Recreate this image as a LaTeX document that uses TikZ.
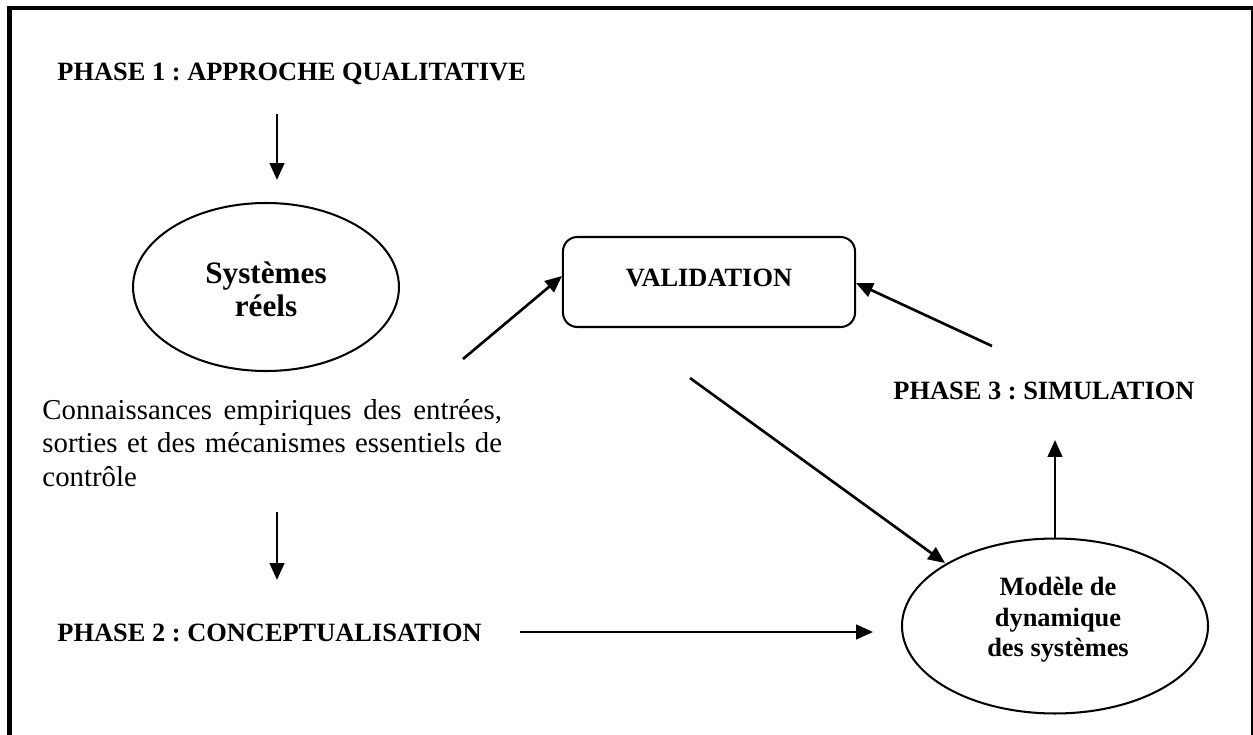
\documentclass[tikz,border=0pt]{standalone}
\usepackage{fontspec}
\setmainfont{Liberation Serif}
\usetikzlibrary{arrows.meta,shapes.geometric}
\frenchspacing
\begin{document}
\begin{tikzpicture}[x=0.41667pt,y=-0.41667pt,
  phase/.style={font=\bfseries\fontsize{11pt}{12.7pt}\selectfont,inner sep=0pt},
  blob/.style={ellipse,draw,line width=0.85pt,inner sep=0pt},
  flow/.style={line width=1.1pt,-{Triangle[length=7pt,width=6pt]}}]
\useasboundingbox (0,0) rectangle (1253,735);
% outer frame
\draw[line width=1.7pt] (9.5,8) rectangle (1253,745);

% phase headings
\node[phase,anchor=base west] (p1) at (57,80) {PHASE 1 : APPROCHE QUALITATIVE};
\node[phase,anchor=base west] (p2) at (57,641) {PHASE 2 : CONCEPTUALISATION};
\node[phase,anchor=base west] (p3) at (893,399) {PHASE 3 : SIMULATION};

% real systems (sizes in pt: 1 px = 0.41667 pt)
\node[blob,minimum width=110.8pt,minimum height=70pt] (sr) at (266,287) {};
\node[font=\bfseries\fontsize{13pt}{13.8pt}\selectfont,align=center,inner sep=0pt] (srt) at (266,289) {Systèmes\\réels};

% empirical knowledge
\node[anchor=north west,inner sep=0pt,align=left,font=\fontsize{12pt}{13.9pt}\selectfont] (ck) at (42,399)
  {\makebox[191.5pt][s]{Connaissances empiriques des entrées,}\\
   \makebox[191.5pt][s]{sorties et des mécanismes essentiels de}\\
   contrôle};

% validation box
\node[draw,line width=0.85pt,rounded corners=6pt,minimum width=121.7pt,minimum height=37.5pt,inner sep=0pt] (val) at (709,282) {};
\node[phase] (valt) at (709,278) {VALIDATION};

% system dynamics model
\node[blob,minimum width=127.5pt,minimum height=72.9pt] (mod) at (1055,626) {};
\node[font=\bfseries\fontsize{11pt}{12.7pt}\selectfont,align=center,inner sep=0pt] (modt) at (1058,620) {Modèle de\\dynamique\\des systèmes};

% arrow end points
\coordinate (a1s) at (277,114);  \coordinate (a1e) at (277,180);
\coordinate (a2s) at (463,359);  \coordinate (a2e) at (562,276);
\coordinate (a3s) at (992,346);  \coordinate (a3e) at (856,283);
\coordinate (a4s) at (690,378);  \coordinate (a4e) at (945,563);
\coordinate (a5e) at (1055,440);
\coordinate (a6s) at (520,632);  \coordinate (a6e) at (873,632);
\coordinate (a7s) at (277,512);  \coordinate (a7e) at (277,580);

\draw[flow] (a1s) -- (a1e);
\draw[flow] (a2s) -- (a2e);
\draw[flow] (a3s) -- (a3e);
\draw[flow] (a4s) -- (a4e);
\draw[flow] (mod.north) -- (a5e);
\draw[flow] (a6s) -- (a6e);
\draw[flow] (a7s) -- (a7e);
\end{tikzpicture}
\end{document}
